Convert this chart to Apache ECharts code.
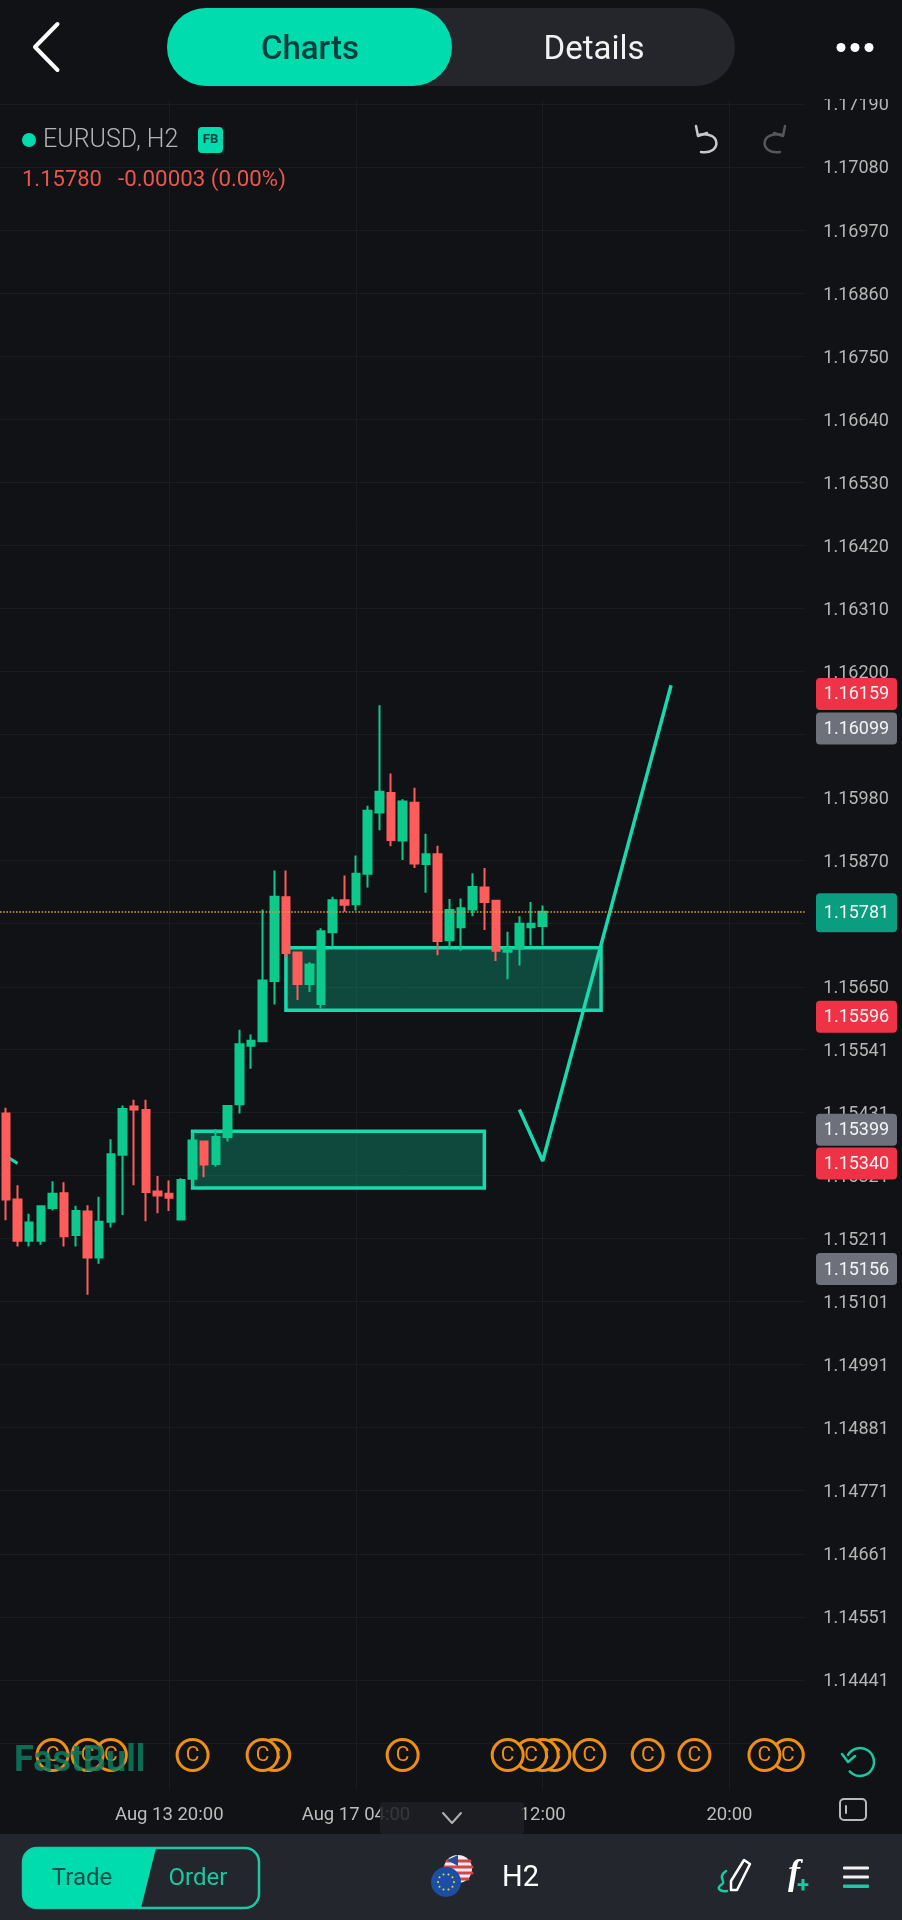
<!DOCTYPE html>
<html><head><meta charset="utf-8">
<style>html,body{margin:0;padding:0;background:#111215}#c{width:902px;height:1920px}</style>
<script src="https://cdn.jsdelivr.net/npm/echarts@6/dist/echarts.min.js"></script>
</head><body><div id="c"></div>
<script>
// [open, close, low, high]
const candles = [
[1.15429,1.15279,1.15243,1.15439],[1.15279,1.15207,1.15197,1.15304],[1.15207,1.15239,1.15197,1.15254],
[1.15207,1.15267,1.15200,1.15268],[1.15264,1.15289,1.15260,1.15311],[1.15290,1.15215,1.15197,1.15309],
[1.15217,1.15259,1.15197,1.15268],[1.15258,1.15178,1.15113,1.15269],[1.15178,1.15240,1.15167,1.15284],
[1.15240,1.15358,1.15230,1.15384],[1.15357,1.15437,1.15252,1.15443],[1.15441,1.15436,1.15304,1.15453],
[1.15435,1.15292,1.15241,1.15453],[1.15293,1.15286,1.15255,1.15320],[1.15289,1.15282,1.15259,1.15312],
[1.15244,1.15313,1.15243,1.15316],[1.15315,1.15382,1.15302,1.15395],[1.15380,1.15340,1.15318,1.15382],
[1.15341,1.15388,1.15336,1.15402],[1.15388,1.15442,1.15380,1.15443],[1.15445,1.15550,1.15429,1.15575],
[1.15547,1.15556,1.15507,1.15567],[1.15555,1.15661,1.15554,1.15785],[1.15660,1.15807,1.15619,1.15853],
[1.15806,1.15709,1.15701,1.15853],[1.15710,1.15655,1.15627,1.15711],[1.15655,1.15689,1.15641,1.15693],
[1.15620,1.15747,1.15612,1.15752],[1.15745,1.15801,1.15720,1.15807],[1.15801,1.15793,1.15781,1.15844],
[1.15794,1.15847,1.15783,1.15879],[1.15847,1.15957,1.15823,1.15966],[1.15954,1.15990,1.15923,1.16141],
[1.15988,1.15906,1.15895,1.16022],[1.15905,1.15973,1.15871,1.15977],[1.15971,1.15865,1.15857,1.15997],
[1.15864,1.15881,1.15814,1.15917],[1.15881,1.15730,1.15705,1.15896],[1.15731,1.15784,1.15717,1.15803],
[1.15754,1.15787,1.15713,1.15804],[1.15785,1.15824,1.15773,1.15848],[1.15823,1.15798,1.15749,1.15857],
[1.15800,1.15713,1.15695,1.15800],[1.15711,1.15717,1.15663,1.15746],[1.15717,1.15760,1.15687,1.15773],
[1.15754,1.15760,1.15722,1.15798],[1.15756,1.15781,1.15722,1.15792]];
const yTicks = [1.1719,1.1708,1.1697,1.1686,1.1675,1.1664,1.1653,1.1642,1.1631,1.162,1.1609,1.1598,1.1587,1.1576,1.1565,1.15541,1.15431,1.15321,1.15211,1.15101,1.14991,1.14881,1.14771,1.14661,1.14551,1.14441,1.14331];
const yLabels = yTicks.slice(0,-1);
const xTickIndex = [14,30,46,62];
const xTickLabels = ['Aug 13 20:00','Aug 17 04:00','12:00','20:00'];
const categories = Array.from({length:69},(_,i)=>'b'+i);
const lastPrice = 1.15781;
const tagValues = [1.16159,1.16099,1.15596,1.15399,1.15340,1.15156,1.15781];
const tagKinds  = ['red','grey','red','grey','red','grey','green'];
// [xStartIndex, xEndIndex, topPrice, bottomPrice]
const zones = [[24,51,1.15718,1.15609],[16,41,1.15398,1.15299]];
const trendLine = [[44,1.15436],[46,1.15346],[57,1.16176]];
const fragmentLine = [[0,1.15355],[1,1.15342]];
const eventIndex = [4,7,9,16,22,23,34,43,45,46,47,50,55,59,65,67];
const eventPrice = 1.1431;

const BG='#111215',TEAL='#00dcae',LINE='#19d9ae',ORANGE='#ee8f12';
const tagColor={red:'#ee3346',grey:'#6e717b',green:'#0a9d80'};
const T=(text,x,y,fill,font,align)=>({type:'text',z:60,style:{text,x,y,fill,font:font,textAlign:align||'center',textVerticalAlign:'middle'}});
const R=(x,y,w,h,fill,r,z,extra)=>({type:'rect',z:z||55,shape:{x,y,width:w,height:h,r:r||0},style:Object.assign({fill},extra||{})});
const C=(cx,cy,r,fill,z,extra)=>({type:'circle',z:z||60,shape:{cx,cy,r},style:Object.assign({fill},extra||{})});
const S=(stroke,w)=>({stroke,lineWidth:w,fill:'none',lineCap:'round',lineJoin:'round'});
const PL=(points,stroke,w,z)=>({type:'polyline',z:z||60,shape:{points},style:S(stroke,w)});
const PG=(points,stroke,w,fill,z)=>({type:'polygon',z:z||60,shape:{points},style:Object.assign(S(stroke,w),{fill:fill||'none'})});
const BZ=(x1,y1,cpx1,cpy1,cpx2,cpy2,x2,y2,stroke,w,z)=>({type:'bezierCurve',z:z||60,shape:{x1,y1,x2,y2,cpx1,cpy1,cpx2,cpy2},style:S(stroke,w)});
const RB='Roboto, sans-serif';
const gfx=[
 R(0,0,902,99,BG,0,50),
 PL([[57.5,24],[35,47],[57.5,70]],'#fff',4),
 R(167,8,568,78,'#24262c',39),
 R(167,8,285,78,TEAL,39,56),
 T('Charts',310,51,'#0a3f40','500 33px '+RB),
 T('Details',594,51,'#f2f2f2','33px '+RB),
 C(841,47.5,4.5,'#fff'),C(855,47.5,4.5,'#fff'),C(869,47.5,4.5,'#fff'),
 C(29,140,7,TEAL),
 T('EURUSD, H2',43,141,'#b4b4b4','300 25px '+RB,'left'),
 R(198,127,25,26,TEAL,4,56),
 T('FB',210.5,140,'#0a3f40','bold 13px '+RB),
 T('1.15780',22,180,'#e5584f','22px '+RB,'left'),
 T('-0.00003 (0.00%)',118,180,'#e5584f','22.3px '+RB,'left'),
 PL([[696,126],[698,136],[707,133]],'#c8c8c8',2.5),
 BZ(698,135,722,130,722,155,701,152,'#c8c8c8',2.5),
 PL([[785,126],[783,136],[774,133]],'#55575b',2.5),
 BZ(783,135,759,130,759,155,780,152,'#55575b',2.5),
 // watermark
 T('FastBull',14,1762,'rgba(13,125,98,0.85)','bold 36px '+RB,'left'),
 // refresh + expand icons
 {type:'arc',z:60,shape:{cx:860,cy:1762,r:14,startAngle:-2.6,endAngle:2.4,clockwise:true},style:S('#19c9a3',2.5)},
 PL([[842,1754],[848,1762],[855,1756]],'#19c9a3',2.5),
 R(840,1799,26,21,'none',4,60,{stroke:'#b9b9b9',lineWidth:2}),
 PL([[846,1806],[846,1813]],'#b9b9b9',2,61),
 // bottom bar
 R(380,1802,144,32,'rgba(30,32,37,0.85)',3,58),
 PL([[443,1813],[452,1823],[461,1813]],'#b0b0b0',2),
 R(0,1834,902,86,'#23262c',0,55),
 R(23,1848,236,60,'#23262c',14,56,{stroke:'#19c9a3',lineWidth:2.5}),
 R(23,1848,60,60,TEAL,14,57),
 PG([[37,1848],[156,1848],[141,1908],[37,1908]],'none',0,TEAL,57),
 T('Trade',82,1879,'#0a4f4c','24px '+RB),
 T('Order',198,1879,'#19c9a3','24px '+RB),
 C(458,1869,14,'#eeeeee'),
 PL([[447,1861],[470,1861]],'#d8424a',3,61),PL([[445,1867],[472,1867]],'#d8424a',3,61),
 PL([[445,1873],[472,1873]],'#d8424a',3,61),PL([[449,1879],[468,1879]],'#d8424a',3,61),
 PG([[458,1855],[447,1860],[458,1866]],'none',0,'#2a4a9a',61),
 C(446,1882,15,'#1b4fa3',62),
 T('H2',502,1879,'#fff','29px '+RB,'left'),
 PG([[744,1860],[750,1864],[737,1890],[731,1890],[731,1881]],'#fff',2.5),
 BZ(726,1871,716,1878,728,1881,721,1885,'#19c9a3',2.5),
 BZ(721,1885,716,1888,720,1892,727,1891,'#19c9a3',2.5),
 T('f',794,1875,'#fff','italic bold 36px "Liberation Serif"'),
 T('+',803,1886,'#19c9a3','bold 22px '+RB),
 R(843,1866.5,26,3,'#f2f2f2',1,60),R(843,1875.5,26,3,'#f2f2f2',1,60),R(843,1884.5,26,3.5,'#19c9a3',1,60)
];
// EU flag stars
for(let a=0;a<10;a++){const t=a*Math.PI/5;gfx.push(C(446+8*Math.cos(t),1882+8*Math.sin(t),1,'#f5d33a',63));}

const chart=echarts.init(document.getElementById('c'),null,{renderer:'canvas'});
const grid={left:-2.7,top:100,width:808,height:1690};
chart.setOption({
 backgroundColor:BG,animation:false,
 grid,
 xAxis:{type:'category',data:categories,axisLine:{show:false},
  axisTick:{show:false,alignWithLabel:true,interval:(i)=>xTickIndex.includes(i)},
  axisLabel:{interval:(i)=>xTickIndex.includes(i),formatter:(v,i)=>xTickLabels[xTickIndex.indexOf(i)]||'',color:'#bdbdbd',fontFamily:'Roboto',fontSize:18.5,margin:16,hideOverlap:false},
  splitLine:{show:true,alignWithLabel:true,interval:(i)=>xTickIndex.includes(i),lineStyle:{color:'#1b1c20',width:1}}},
 yAxis:{type:'value',position:'right',min:1.14249,max:1.171968,scale:true,
  axisLine:{show:false},
  axisTick:{show:false,customValues:yTicks},
  axisLabel:{customValues:yLabels,formatter:v=>v.toFixed(5),color:'#b6b6b6',fontFamily:'Roboto',fontSize:18,margin:18,verticalAlign:'top',lineHeight:4,hideOverlap:false},
  splitLine:{show:true,lineStyle:{color:'#1b1c20',width:1}}},
 graphic:{elements:gfx},
 series:[
  {type:'custom',z:1,clip:false,silent:true,data:zones,encode:{x:[0,1],y:[2,3]},
   renderItem:(p,api)=>{const a=api.coord([api.value(0),api.value(2)]),b=api.coord([api.value(1),api.value(3)]);
    return {type:'rect',shape:{x:a[0],y:a[1],width:b[0]-a[0],height:b[1]-a[1]},style:{fill:'rgba(10,217,165,0.27)',stroke:LINE,lineWidth:3.5}};}},
  {type:'line',z:1,data:fragmentLine,showSymbol:false,silent:true,lineStyle:{color:LINE,width:3}},
  {type:'candlestick',z:2,data:candles,barWidth:8,silent:true,
   itemStyle:{color:'#0dc98c',color0:'#ff5c5c',borderColor:'#0dc98c',borderColor0:'#ff5c5c',borderWidth:2}},
  {type:'line',z:3,data:trendLine,showSymbol:false,silent:true,clip:false,lineStyle:{color:LINE,width:3.5},
   markLine:{silent:true,symbol:'none',precision:5,label:{show:false},animation:false,data:[{yAxis:lastPrice}],
    lineStyle:{color:'#d99a2b',type:'dotted',width:1.6}}},
  {type:'custom',z:4,clip:false,silent:true,data:eventIndex.slice().reverse().map(i=>[i,eventPrice]),encode:{x:0,y:1},
   renderItem:(p,api)=>{const c=api.coord([api.value(0),api.value(1)]);
    return {type:'group',children:[
     {type:'circle',shape:{cx:c[0],cy:c[1],r:15.5},style:{fill:BG,stroke:ORANGE,lineWidth:3}},
     {type:'text',style:{text:'C',x:c[0],y:c[1]+1,fill:ORANGE,font:'21px Roboto',textAlign:'center',textVerticalAlign:'middle'}}]};}},
  {type:'custom',z:10,clip:false,silent:true,data:tagValues.map(v=>[0,v]),encode:{x:0,y:1},
   renderItem:(p,api)=>{const y=api.coord([0,api.value(1)])[1]-1,k=tagKinds[p.dataIndex],h=k==='green'?39:32;
    return {type:'group',children:[
     {type:'rect',shape:{x:816,y:(k==='green'?y+2:y)-h/2,width:81,height:h,r:4},style:{fill:tagColor[k]}},
     {type:'text',style:{text:api.value(1).toFixed(5),x:856.5,y:(k==='green'?y+2:y)+1,fill:'#f4f4f4',font:'18px Roboto',textAlign:'center',textVerticalAlign:'middle'}}]};}}
 ]
});
</script></body></html>
